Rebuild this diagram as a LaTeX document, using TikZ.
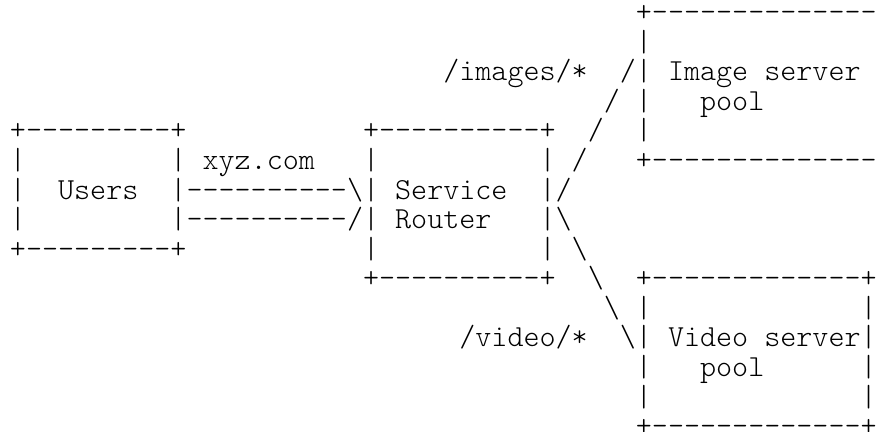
\documentclass[tikz,border=0pt]{standalone}
% monospaced cell: 16.05pt wide, rows 29.57pt apart
\newlength\cellw
\settowidth\cellw{\ttfamily\fontseries{l}\fontsize{30pt}{36pt}\selectfont M}
\pgfmathsetmacro\asciisize{30*16.05/\cellw}
\newcommand\hyphens[1]{\foreach\k in {1,...,#1}{\hbox{-}}}
\tikzset{
  glyphs/.style={font=\ttfamily\fontseries{l}\fontsize{\asciisize pt}{\asciisize pt}\selectfont,
    anchor=base west, inner sep=0pt, outer sep=0pt},
}
\begin{document}
\begin{tikzpicture}
\useasboundingbox (0,0) rectangle (880pt,-431pt);
\clip (0,0) rectangle (880pt,-431pt);
\begin{scope}[shift={(9.97pt,-21.6pt)}, x=16.05pt, y=-29.57pt]
  % image server pool (runs on past the right edge)
  \node[glyphs] (imgtop) at (39,0) {+\hyphens{14}};
  \node[glyphs] (imgl1) at (39,1) {|};
  \node[glyphs] (imgpath) at (27,2) {/images/*};
  \node[glyphs] (imglink2) at (38,2) {/|};
  \node[glyphs] (imgname) at (41,2) {Image server};
  \node[glyphs] (imglink3) at (37,3) {/};
  \node[glyphs] (imgl3) at (39,3) {|};
  \node[glyphs] (imgpool) at (43,3) {pool};
  \node[glyphs] (imglink4) at (36,4) {/};
  \node[glyphs] (imgl4) at (39,4) {|};
  \node[glyphs] (imglink5) at (35,5) {/};
  \node[glyphs] (imgbottom) at (39,5) {+\hyphens{14}};
  % users
  \node[glyphs] (usertop) at (0,4) {+\hyphens{9}+};
  \node[glyphs] (userl5) at (0,5) {|};
  \node[glyphs] (userr5) at (10,5) {|};
  \node[glyphs] (domain) at (12,5) {xyz.com};
  \node[glyphs] (userl6) at (0,6) {|};
  \node[glyphs] (username) at (3,6) {Users};
  \node[glyphs] (request) at (10,6) {|\hyphens{10}\textbackslash|};
  \node[glyphs] (userl7) at (0,7) {|};
  \node[glyphs] (reply) at (10,7) {|\hyphens{10}/|};
  \node[glyphs] (userbottom) at (0,8) {+\hyphens{9}+};
  % service router
  \node[glyphs] (routertop) at (22,4) {+\hyphens{10}+};
  \node[glyphs] (routerl5) at (22,5) {|};
  \node[glyphs] (routerr5) at (33,5) {|};
  \node[glyphs] (routername) at (24,6) {Service};
  \node[glyphs] (routerr6) at (33,6) {|/};
  \node[glyphs] (routername2) at (24,7) {Router};
  \node[glyphs] (routerr7) at (33,7) {|\textbackslash};
  \node[glyphs] (routerl8) at (22,8) {|};
  \node[glyphs] (routerr8) at (33,8) {|};
  \node[glyphs] (routerbottom) at (22,9) {+\hyphens{10}+};
  % video server pool
  \node[glyphs] (vidlink8) at (35,8) {\textbackslash};
  \node[glyphs] (vidlink9) at (36,9) {\textbackslash};
  \node[glyphs] (vidtop) at (39,9) {+\hyphens{13}+};
  \node[glyphs] (vidlink10) at (37,10) {\textbackslash};
  \node[glyphs] (vidl10) at (39,10) {|};
  \node[glyphs] (vidr10) at (53,10) {|};
  \node[glyphs] (vidpath) at (28,11) {/video/*};
  \node[glyphs] (vidlink11) at (38,11) {\textbackslash|};
  \node[glyphs] (vidname) at (41,11) {Video server|};
  \node[glyphs] (vidl12) at (39,12) {|};
  \node[glyphs] (vidpool) at (43,12) {pool};
  \node[glyphs] (vidr12) at (53,12) {|};
  \node[glyphs] (vidl13) at (39,13) {|};
  \node[glyphs] (vidr13) at (53,13) {|};
  \node[glyphs] (vidbottom) at (39,14) {+\hyphens{13}+};
\end{scope}
\end{tikzpicture}
\end{document}
